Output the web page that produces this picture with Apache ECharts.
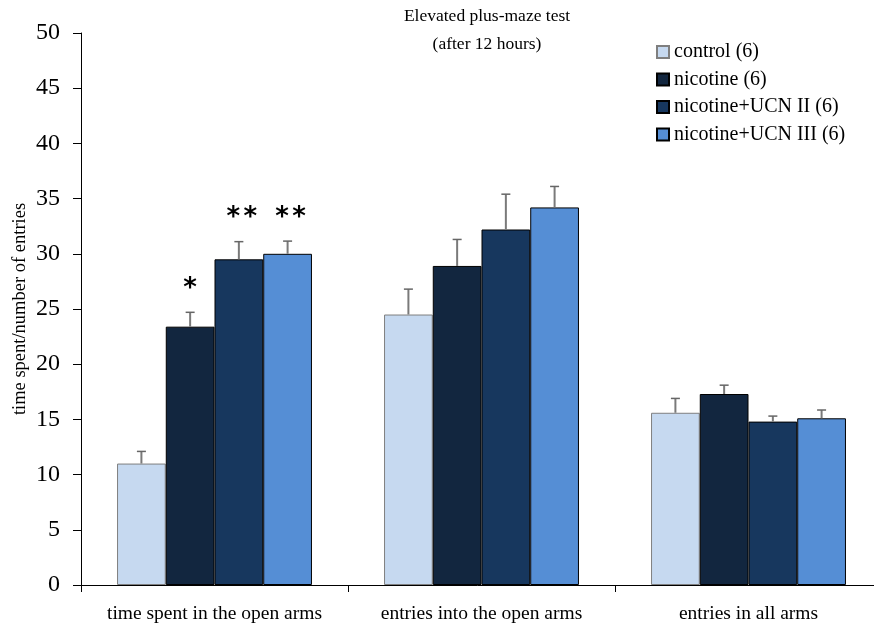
<!DOCTYPE html>
<html>
<head>
<meta charset="utf-8">
<script src="https://cdn.jsdelivr.net/npm/echarts@6/dist/echarts.min.js"></script>
<style>
  html, body { margin: 0; padding: 0; background: #fff; }
  #chart { width: 874px; height: 628px; }
</style>
</head>
<body>
<div id="chart"></div>
<script>
// Elevated plus-maze test, 12 hours after treatment
const categories = ['time spent in the open arms', 'entries into the open arms', 'entries in all arms'];
const seriesNames = ['control (6)', 'nicotine (6)', 'nicotine+UCN II (6)', 'nicotine+UCN III (6)'];

const control  = [11.0, 24.5, 15.6];
const nicotine = [23.4, 28.9, 17.3];
const ucn2     = [29.5, 32.2, 14.8];
const ucn3     = [30.0, 34.2, 15.1];

const controlErr  = [1.1, 2.3, 1.3];
const nicotineErr = [1.3, 2.4, 0.8];
const ucn2Err     = [1.6, 3.2, 0.5];
const ucn3Err     = [1.15, 1.9, 0.75];

// significance markers above each bar (per series, per category)
const controlSig  = ['', '', ''];
const nicotineSig = ['*', '', ''];
const ucn2Sig     = ['**', '', ''];
const ucn3Sig     = ['**', '', ''];

const yTicks = { min: 0, max: 50, interval: 5 };

const values = [control, nicotine, ucn2, ucn3];
const errors = [controlErr, nicotineErr, ucn2Err, ucn3Err];
const sigs = [controlSig, nicotineSig, ucn2Sig, ucn3Sig];
const colors = ['#C6D9F0', '#12263F', '#17375E', '#558ED5'];
const borders = ['#7f7f7f', '#000000', '#000000', '#000000'];
const GAP = 0.27;
const serif = '"Liberation Serif", "Times New Roman", serif';

const errData = [];
const errMarks = [];
values.forEach((vals, s) => {
  vals.forEach((v, c) => {
    errData.push([c, v, errors[s][c], s]);
    errMarks.push(sigs[s][c]);
  });
});

const barSeries = values.map((vals, s) => ({
  name: seriesNames[s],
  type: 'bar',
  data: vals,
  barGap: '0%',
  barCategoryGap: (GAP * 100) + '%',
  itemStyle: { color: colors[s], borderColor: borders[s], borderWidth: 1 },
  emphasis: { disabled: true },
  z: 2
}));

// upper error bars with caps, plus significance asterisks
const errSeries = {
  type: 'custom',
  name: 'err',
  data: errData,
  z: 5,
  silent: true,
  renderItem: function (params, api) {
    const c = api.value(0), v = api.value(1), e = api.value(2), s = api.value(3);
    const catW = api.size([1, 0])[0];
    const bw = catW * (1 - GAP) / 4;
    const base = api.coord([c, v]);
    const x = base[0] + (s - 1.5) * bw;
    const yTop = api.coord([c, v + e])[1];
    const children = [
      { type: 'line', shape: { x1: x, y1: base[1], x2: x, y2: yTop },
        style: { stroke: '#7a7a7a', lineWidth: 2 } },
      { type: 'line', shape: { x1: x - 4.5, y1: yTop, x2: x + 4.5, y2: yTop },
        style: { stroke: '#666', lineWidth: 1.5 } }
    ];
    const mark = errMarks[params.dataIndex];
    if (mark) {
      const chars = mark.split('');
      const n = chars.length;
      chars.forEach((ch, i) => {
        children.push({
          type: 'text',
          style: {
            text: ch,
            x: x + (n > 1 ? 3 : 0) + (i - (n - 1) / 2) * 17,
            y: yTop - 23,
            textAlign: 'center', textVerticalAlign: 'middle',
            font: 'bold 26px "DejaVu Sans", sans-serif',
            fill: '#000'
          }
        });
      });
    }
    return { type: 'group', children: children };
  }
};

const chart = echarts.init(document.getElementById('chart'), null, { renderer: 'canvas' });
chart.setOption({
  animation: false,
  backgroundColor: '#fff',
  title: {
    text: 'Elevated plus-maze test\n(after 12 hours)',
    left: 482, top: -3, textAlign: 'center',
    textStyle: { fontFamily: serif, fontSize: 17.5, fontWeight: 'normal', color: '#000', lineHeight: 28 }
  },
  legend: {
    data: seriesNames,
    orient: 'vertical',
    left: 651, top: 37,
    icon: 'rect', itemWidth: 12, itemHeight: 12, itemGap: 7.5,
    textStyle: { fontFamily: serif, fontSize: 20, color: '#000', padding: [0, 0, 0, 0] },
    selectedMode: false
  },
  grid: { left: 81, right: -8, top: 33, bottom: 43, containLabel: false, outerBoundsMode: 'none' },
  xAxis: {
    type: 'category',
    data: categories,
    axisLine: { lineStyle: { color: '#000', width: 1 } },
    axisTick: { show: true, interval: 0, length: 7, lineStyle: { color: '#000' } },
    axisLabel: { interval: 0, fontFamily: serif, fontSize: 19.5, color: '#000', margin: 19 }
  },
  yAxis: {
    type: 'value',
    min: yTicks.min, max: yTicks.max, interval: yTicks.interval,
    name: 'time spent/number of entries',
    nameLocation: 'middle', nameGap: 51, nameRotate: 90,
    nameMoveOverlap: false,
    nameTextStyle: { fontFamily: serif, fontSize: 18.5, color: '#000' },
    axisLine: { show: true, lineStyle: { color: '#000', width: 1 } },
    axisTick: { show: true, length: 8, lineStyle: { color: '#000' } },
    splitLine: { show: false },
    axisLabel: { fontFamily: serif, fontSize: 24, color: '#000', margin: 21 }
  },
  series: [...barSeries, errSeries]
});
</script>
</body>
</html>
